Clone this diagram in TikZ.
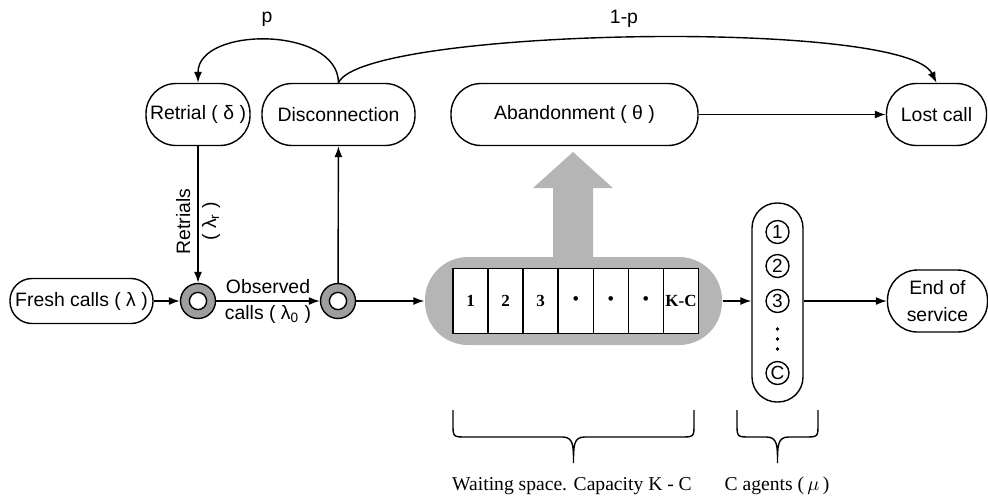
\documentclass[tikz,border=0pt]{standalone}
\usepackage{fontspec}
\setmainfont{Liberation Serif}
\setsansfont{Liberation Sans}
\usetikzlibrary{arrows.meta}
\definecolor{ringgray}{gray}{0.62}
\definecolor{padgray}{gray}{0.71}
\tikzset{
  stage/.style={draw, rectangle, rounded corners=15pt, minimum height=31pt,
    inner sep=1pt, align=center, font=\sffamily\fontsize{9.7}{13.5}\selectfont},
  junction/.style={circle, draw, fill=ringgray, minimum size=17.5pt, inner sep=0pt,
    path picture={\draw[fill=white] (path picture bounding box.center) circle (4.3pt);}},
  cell/.style={draw, fill=white, minimum width=17.57pt, minimum height=32.5pt,
    inner sep=0pt, font=\rmfamily\bfseries\fontsize{8.5}{9}\selectfont},
  agent/.style={circle, draw, minimum size=11.5pt, inner sep=0pt,
    font=\sffamily\fontsize{9.5}{10}\selectfont},
  flow/.style={-{Latex[length=5.5pt,width=4pt]}},
  lbl/.style={font=\sffamily\fontsize{9.7}{13}\selectfont, align=center, inner sep=1pt},
  note/.style={font=\rmfamily\fontsize{9.8}{12}\selectfont}
}
% curly bracket opening downwards: left x, right x
\newcommand{\underbrack}[2]{%
  \draw ({#1},410) -- ({#1},424) .. controls ({#1},437) .. ({#1+14},437)
    -- ({(#1+#2)/2-11},437) .. controls ({(#1+#2)/2},437) and ({(#1+#2)/2},446) .. ({(#1+#2)/2},463)
    .. controls ({(#1+#2)/2},446) and ({(#1+#2)/2},437) .. ({(#1+#2)/2+11},437)
    -- ({#2-14},437) .. controls ({#2},437) .. ({#2},424) -- ({#2},410);}
\begin{document}
\begin{tikzpicture}[x=0.5pt, y=-0.5pt, line width=0.7pt]
  \useasboundingbox (0,0) rectangle (988,500);

  % top row
  \node[stage, minimum width=52pt] (retrial) at (198,114.5) {Retrial ( δ )};
  \node[stage, minimum width=76.5pt] (disc) at (338.5,114.5) {Disconnection};
  \node[stage, minimum width=123.5pt] (aband) at (574.5,114.5) {Abandonment ( θ )};
  \node[stage, minimum width=50pt] (lost) at (936.5,114.5) {Lost call};

  % main line
  \node[stage, minimum width=71.5pt, minimum height=22.5pt, rounded corners=11pt]
    (fresh) at (81.5,301) {Fresh calls ( λ )};
  \node[junction] (j1) at (198,301) {};
  \node[junction] (j2) at (338,301) {};

  % waiting space
  \fill[padgray] (553,262) -- (553,188) -- (533,188) -- (573,152)
    -- (613,188) -- (593,188) -- (593,262) -- cycle;
  \node[fill=padgray, rounded corners=21.5pt, minimum width=148.5pt,
    minimum height=44pt, inner sep=0pt] (wait) at (573.5,301) {};
  \foreach \lab [count=\i] in {1,2,3,\textbullet,\textbullet,\textbullet,K-C}
    \node[cell] (q\i) at ({453+35.07*(\i-0.5)},301) {\lab};

  % servers
  \node[draw, rounded corners=12.5pt, minimum width=25.5pt, minimum height=99.5pt,
    inner sep=0pt] (agents) at (777.5,302.5) {};
  \foreach \lab/\y [count=\i] in {1/232,2/266,3/301,C/373}
    \node[agent] (a\i) at (777.5,\y) {\lab};
  \foreach \y in {329,339,349}
    \fill (777.5,\y) circle (0.9pt);

  \node[stage, minimum width=50pt] (end) at (937.5,301) {End of\\service};

  % connectors
  \draw[flow] (fresh) -- (j1);
  \draw[flow] (j1) -- node[lbl] (obs) {Observed\\calls ( λ\textsubscript{0} )} (j2);
  \draw[flow] (retrial) -- node[lbl, rotate=90, pos=0.55] (rlab)
    {Retrials\\( λ\textsubscript{r} )} (j1);
  \draw[flow] (j2) -- (disc);
  \draw[flow] (j2) -- (wait);
  \draw[flow] (wait) -- (agents.west |- wait);
  \draw[flow] (agents.east |- a3) -- (end);
  \draw[flow] (aband) -- (lost);
  \draw[flow] (disc.north) .. controls (338,26) and (198,26) .. (retrial.north);
  \draw[flow] (disc.north) .. controls (362,28) and (905,18) .. (lost.north);
  \node[lbl] (p) at (267,19) {p};
  \node[lbl] (notp) at (624,19) {1-p};

  % brackets
  \underbrack{453}{694}
  \underbrack{737}{818}
  \node[note] (wtext) at (572,486) {Waiting space. Capacity K - C};
  \node[note] (atext) at (777,486) {C agents (\,$\mu$\,)};
\end{tikzpicture}
\end{document}
